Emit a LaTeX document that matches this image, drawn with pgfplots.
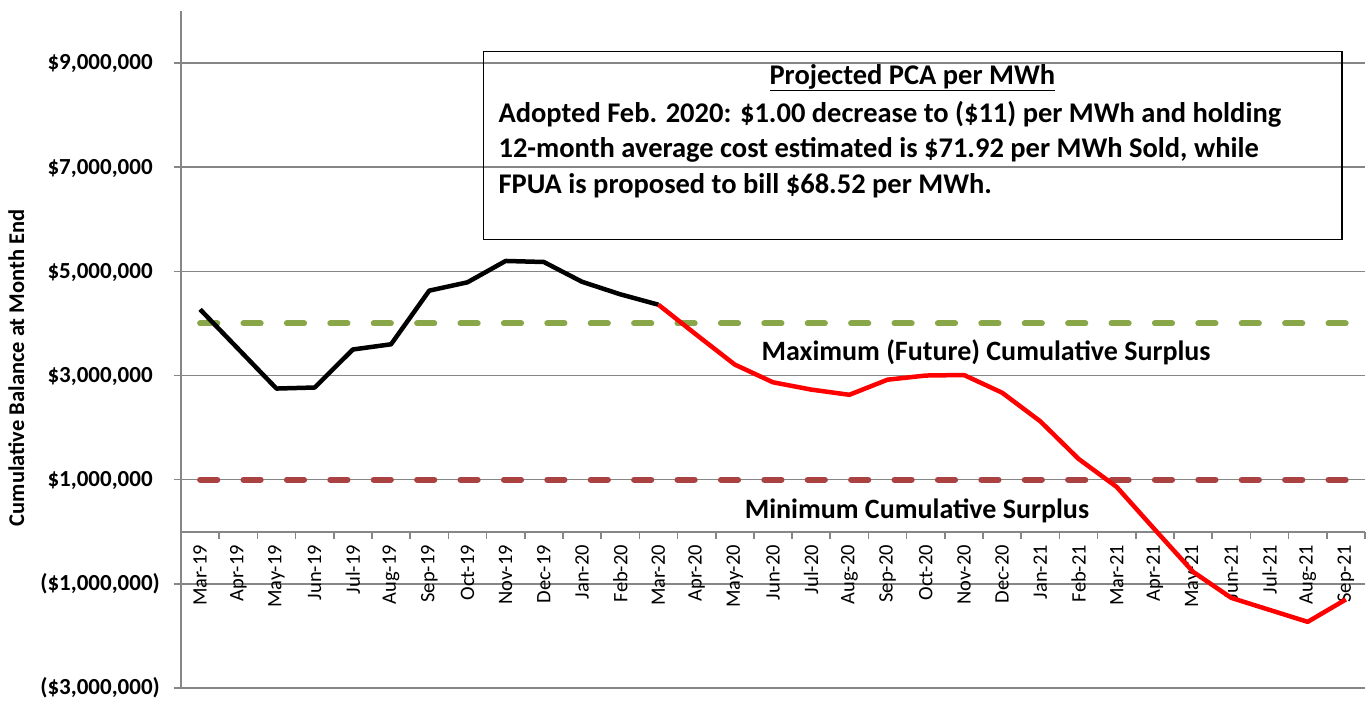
\documentclass[border=0pt]{standalone}
\usepackage{fontspec}
\setmainfont{Carlito}
\usepackage{pgfplots}
\usepackage{pgfplotstable}
\pgfplotsset{compat=1.18}
\definecolor{gridgray}{RGB}{134,134,134}
\definecolor{maxgreen}{RGB}{137,166,72}
\definecolor{minred}{RGB}{170,66,66}

\pgfplotstableread{
x y
0 4.27
1 3.51
2 2.75
3 2.77
4 3.50
5 3.60
6 4.63
7 4.79
8 5.20
9 5.18
10 4.80
11 4.56
12 4.36
}\actual

\pgfplotstableread{
x y
12 4.36
13 3.78
14 3.21
15 2.87
16 2.73
17 2.63
18 2.92
19 3.00
20 3.01
21 2.67
22 2.12
23 1.40
24 0.86
25 0.04
26 -0.77
27 -1.27
28 -1.50
29 -1.73
30 -1.30
}\proj

\begin{document}
\begin{tikzpicture}
\begin{axis}[
  scale only axis,
  width=1184pt, height=677pt,
  xmin=-0.5, xmax=30.5, ymin=-3, ymax=10,
  axis y line=left, axis x line=middle,
  axis line style={gridgray, line width=1.6pt, -},
  tick align=outside,
  xtick={0,...,30},
  xticklabels={Mar-19,Apr-19,May-19,Jun-19,Jul-19,Aug-19,Sep-19,Oct-19,Nov-19,Dec-19,Jan-20,Feb-20,Mar-20,Apr-20,May-20,Jun-20,Jul-20,Aug-20,Sep-20,Oct-20,Nov-20,Dec-20,Jan-21,Feb-21,Mar-21,Apr-21,May-21,Jun-21,Jul-21,Aug-21,Sep-21},
  every major x tick/.append style={draw=none},
  minor xtick={-0.5,0.5,...,30.5},
  every minor x tick/.append style={gridgray, line width=1.6pt},
  minor tick length=7pt,
  major tick length=7pt,
  every major y tick/.append style={gridgray, line width=1.6pt},
  xticklabel style={font=\fontsize{20.5}{24}\selectfont, rotate=90, anchor=east, inner sep=6pt},
  ytick={-3,-1,1,3,5,7,9},
  yticklabels={{(\$3,000,000)},{(\$1,000,000)},{\$1,000,000\phantom{)}},{\$3,000,000\phantom{)}},{\$5,000,000\phantom{)}},{\$7,000,000\phantom{)}},{\$9,000,000\phantom{)}}},
  yticklabel style={font=\bfseries\fontsize{23}{27}\selectfont, anchor=east, inner sep=0pt, xshift=-14pt},
  ymajorgrids,
  grid style={gridgray, line width=1.6pt},
  ylabel={Cumulative Balance at Month End},
  ylabel style={font=\bfseries\fontsize{22.5}{26}\selectfont, at={(axis description cs:-0.146,0.473)}, anchor=north, inner sep=0pt},
  clip=false,
]
\addplot[maxgreen, line width=6pt, line cap=round, dash pattern=on 17.2pt off 26.2pt] coordinates {(0,4) (30,4)};
\addplot[minred, line width=6pt, line cap=round, dash pattern=on 17.2pt off 26.2pt] coordinates {(0,1) (30,1)};
\addplot[black, line width=4.5pt, line join=round] table[x=x,y=y] {\actual};
\addplot[red, line width=4.5pt, line join=round] table[x=x,y=y] {\proj};

\node[font=\bfseries\fontsize{28}{32}\selectfont] at (axis cs:20.58,3.44) {Maximum (Future) Cumulative Surplus};
\node[font=\bfseries\fontsize{28}{32}\selectfont] at (axis cs:18.77,0.40) {Minimum Cumulative Surplus};

\draw[black, line width=1.2pt] (axis cs:7.41,9.22) rectangle (axis cs:29.9,5.61);
\node[font=\bfseries\fontsize{28.5}{32}\selectfont] at (axis cs:18.65,8.72) {\underline{Projected PCA per MWh}};
\node[font=\bfseries\fontsize{28.5}{32}\selectfont, anchor=west, inner sep=0pt] at (axis cs:7.81,8.01) {Adopted Feb. 2020: \$1.00 decrease to (\$11) per MWh and holding};
\node[font=\bfseries\fontsize{28.5}{32}\selectfont, anchor=west, inner sep=0pt] at (axis cs:7.81,7.33) {12-month average cost estimated is \$71.92 per MWh Sold, while};
\node[font=\bfseries\fontsize{28.5}{32}\selectfont, anchor=west, inner sep=0pt] at (axis cs:7.81,6.64) {FPUA is proposed to bill \$68.52 per MWh.};
\end{axis}
\pgfresetboundingbox
\path[use as bounding box] (-181pt,-15pt) rectangle (1188pt,688pt);
\end{tikzpicture}
\end{document}
